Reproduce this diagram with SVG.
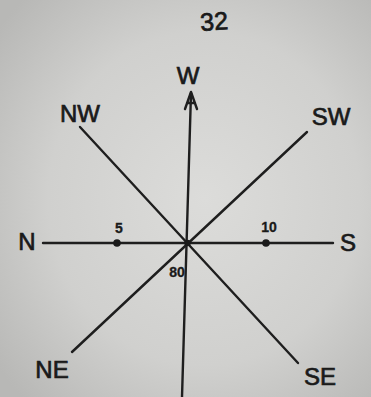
<svg xmlns="http://www.w3.org/2000/svg" width="371" height="397" viewBox="0 0 371 397">
<defs>
<radialGradient id="paper" cx="55%" cy="50%" r="70%">
<stop offset="0" stop-color="#dcdcda"/>
<stop offset="0.6" stop-color="#d0d0ce"/>
<stop offset="1" stop-color="#b8b8b6"/>
</radialGradient>
<style>
.ln{stroke:#1e1e1e;stroke-width:2.4;fill:none;stroke-linecap:round}
.lbl{font-family:"Liberation Sans","DejaVu Sans",sans-serif;fill:#1a1a1a;stroke:#1a1a1a;stroke-width:0.7;text-anchor:middle;dominant-baseline:central}
.big{font-size:24px}
.sm{font-size:14px;font-weight:bold;stroke-width:0.3}
.dot{fill:#1a1a1a}
</style>
</defs>
<rect width="371" height="397" fill="url(#paper)"/>
<g id="page-number"><text class="lbl" x="214" y="21" font-size="25" transform="rotate(-4 214 21)">32</text></g>
<g id="connectors">
<line class="ln" x1="191" y1="93" x2="182" y2="397"/>
<path class="ln" d="M185 109 L191 92 L197 109 M187 103 L195 103" stroke-width="3" stroke-linejoin="round"/>
<line class="ln" x1="43" y1="243" x2="333" y2="243"/>
<line class="ln" x1="80" y1="127" x2="298" y2="363"/>
<line class="ln" x1="307" y1="132" x2="72" y2="352"/>
<circle class="dot" cx="117" cy="243" r="3.8"/>
<circle class="dot" cx="266" cy="243" r="3.8"/>
<circle class="dot" cx="187.5" cy="243" r="3.2"/>
</g>
<g id="W"><text class="lbl big" x="188" y="75">W</text></g>
<g id="NW"><text class="lbl big" x="80" y="113">NW</text></g>
<g id="SW"><text class="lbl big" x="331" y="116">SW</text></g>
<g id="N"><text class="lbl big" x="27" y="241">N</text></g>
<g id="S"><text class="lbl big" x="348" y="242">S</text></g>
<g id="NE"><text class="lbl big" x="52" y="369">NE</text></g>
<g id="SE"><text class="lbl big" x="320" y="376">SE</text></g>
<g id="mark-5"><text class="lbl sm" x="119" y="228">5</text></g>
<g id="mark-10"><text class="lbl sm" x="269" y="227">10</text></g>
<g id="mark-80"><text class="lbl sm" x="177" y="272">80</text></g>
</svg>
